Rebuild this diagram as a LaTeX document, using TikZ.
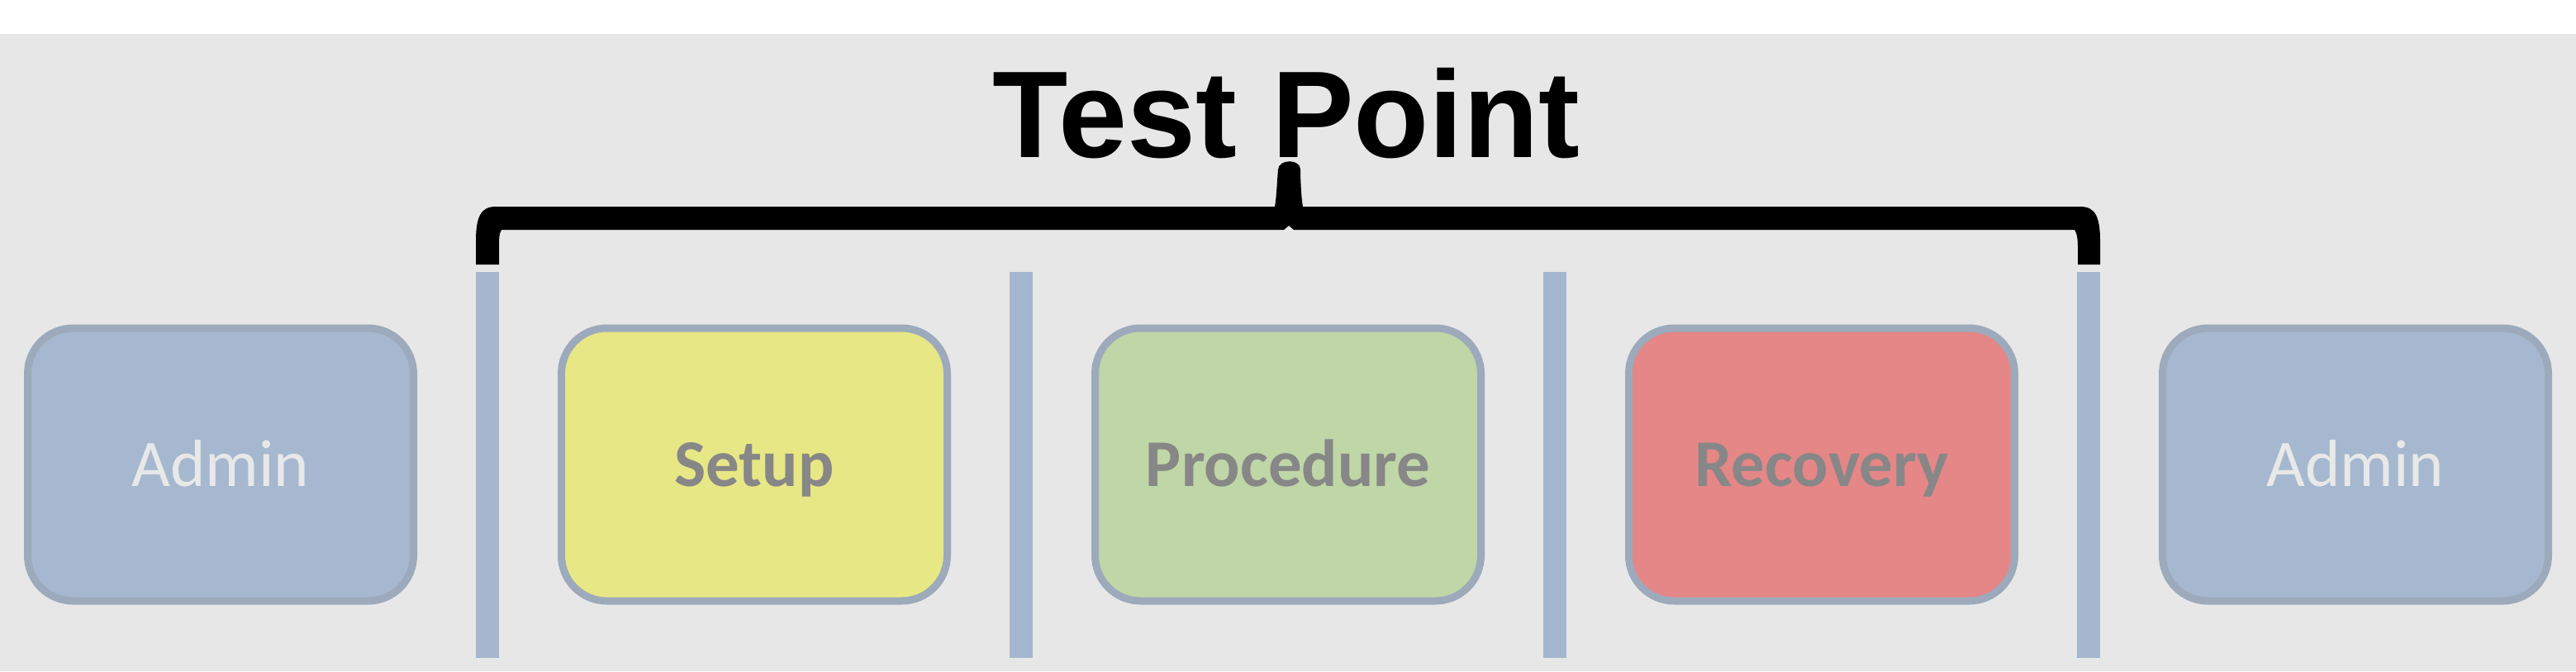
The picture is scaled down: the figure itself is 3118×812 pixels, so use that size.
\documentclass[tikz,border=0pt]{standalone}
\usepackage{fontspec}
\setmainfont{Carlito}
\newfontfamily\headfont{Liberation Sans}
\usetikzlibrary{positioning}
\definecolor{bgc}{HTML}{E7E7E7}
\definecolor{edgec}{HTML}{9CAABB}
\definecolor{adminc}{HTML}{A5B8CF}
\definecolor{barc}{HTML}{A5B6CF}
\definecolor{setupc}{HTML}{E7E785}
\definecolor{procc}{HTML}{BFD6A6}
\definecolor{recc}{HTML}{E58687}
\definecolor{admtxt}{HTML}{E8E8E8}
\definecolor{worktxt}{HTML}{878787}

\begin{document}
\begin{tikzpicture}[x=0.1mm,y=-0.1mm,node distance=7.1mm,
 phase/.style={draw=edgec,line width=0.9mm,rounded corners=5.5mm,minimum width=46.7mm,minimum height=33mm,
  text height=6.7mm,text depth=1.5mm,font=\fontsize{23}{27}\selectfont},
 admin/.style={phase,fill=adminc,text=admtxt},
 work/.style={phase,text=worktxt,font=\fontsize{23}{27}\selectfont\bfseries},
 sep/.style={fill=barc,minimum width=2.8mm,minimum height=46.7mm,inner sep=0pt,outer sep=0pt}]
\useasboundingbox (0,0) rectangle (3118,812);
\fill[white] (0,0) rectangle (3118,812);
\fill[bgc] (0,41) rectangle (3118,812);
% phases
\node[admin] (adm1) at (267,562) {Admin};
\node[sep,right=of adm1] (s1) {};
\node[work,fill=setupc,right=of s1] (setup) {Setup};
\node[sep,right=of setup] (s2) {};
\node[work,fill=procc,right=of s2] (proc) {Procedure};
\node[sep,right=of proc] (s3) {};
\node[work,fill=recc,right=of s3] (rec) {Recovery};
\node[sep,right=of rec] (s4) {};
\node[admin,right=of s4] (adm2) {Admin};
% brace
\fill (576,320) -- (576,292) .. controls (576,262) and (582,250) .. (600,250) -- (1543,250)
 .. controls (1545,240) and (1546,215) .. (1547,205) .. controls (1548,192) and (1574,192) .. (1574,205)
 .. controls (1574,215) and (1575,240) .. (1577,250) -- (2518,250)
 .. controls (2536,250) and (2542,262) .. (2542,292) -- (2542,320) -- (2515,320) -- (2515,300)
 .. controls (2515,290) and (2514,282) .. (2511,278) -- (1566,278) -- (1560,273) -- (1554,278) -- (607,278)
 .. controls (604,282) and (604,290) .. (604,300) -- (604,320) -- cycle;
\node[font=\headfont\bfseries\fontsize{42.5}{50}\selectfont,anchor=base] (title) at (1557,190) {Test Point};
\end{tikzpicture}
\end{document}
